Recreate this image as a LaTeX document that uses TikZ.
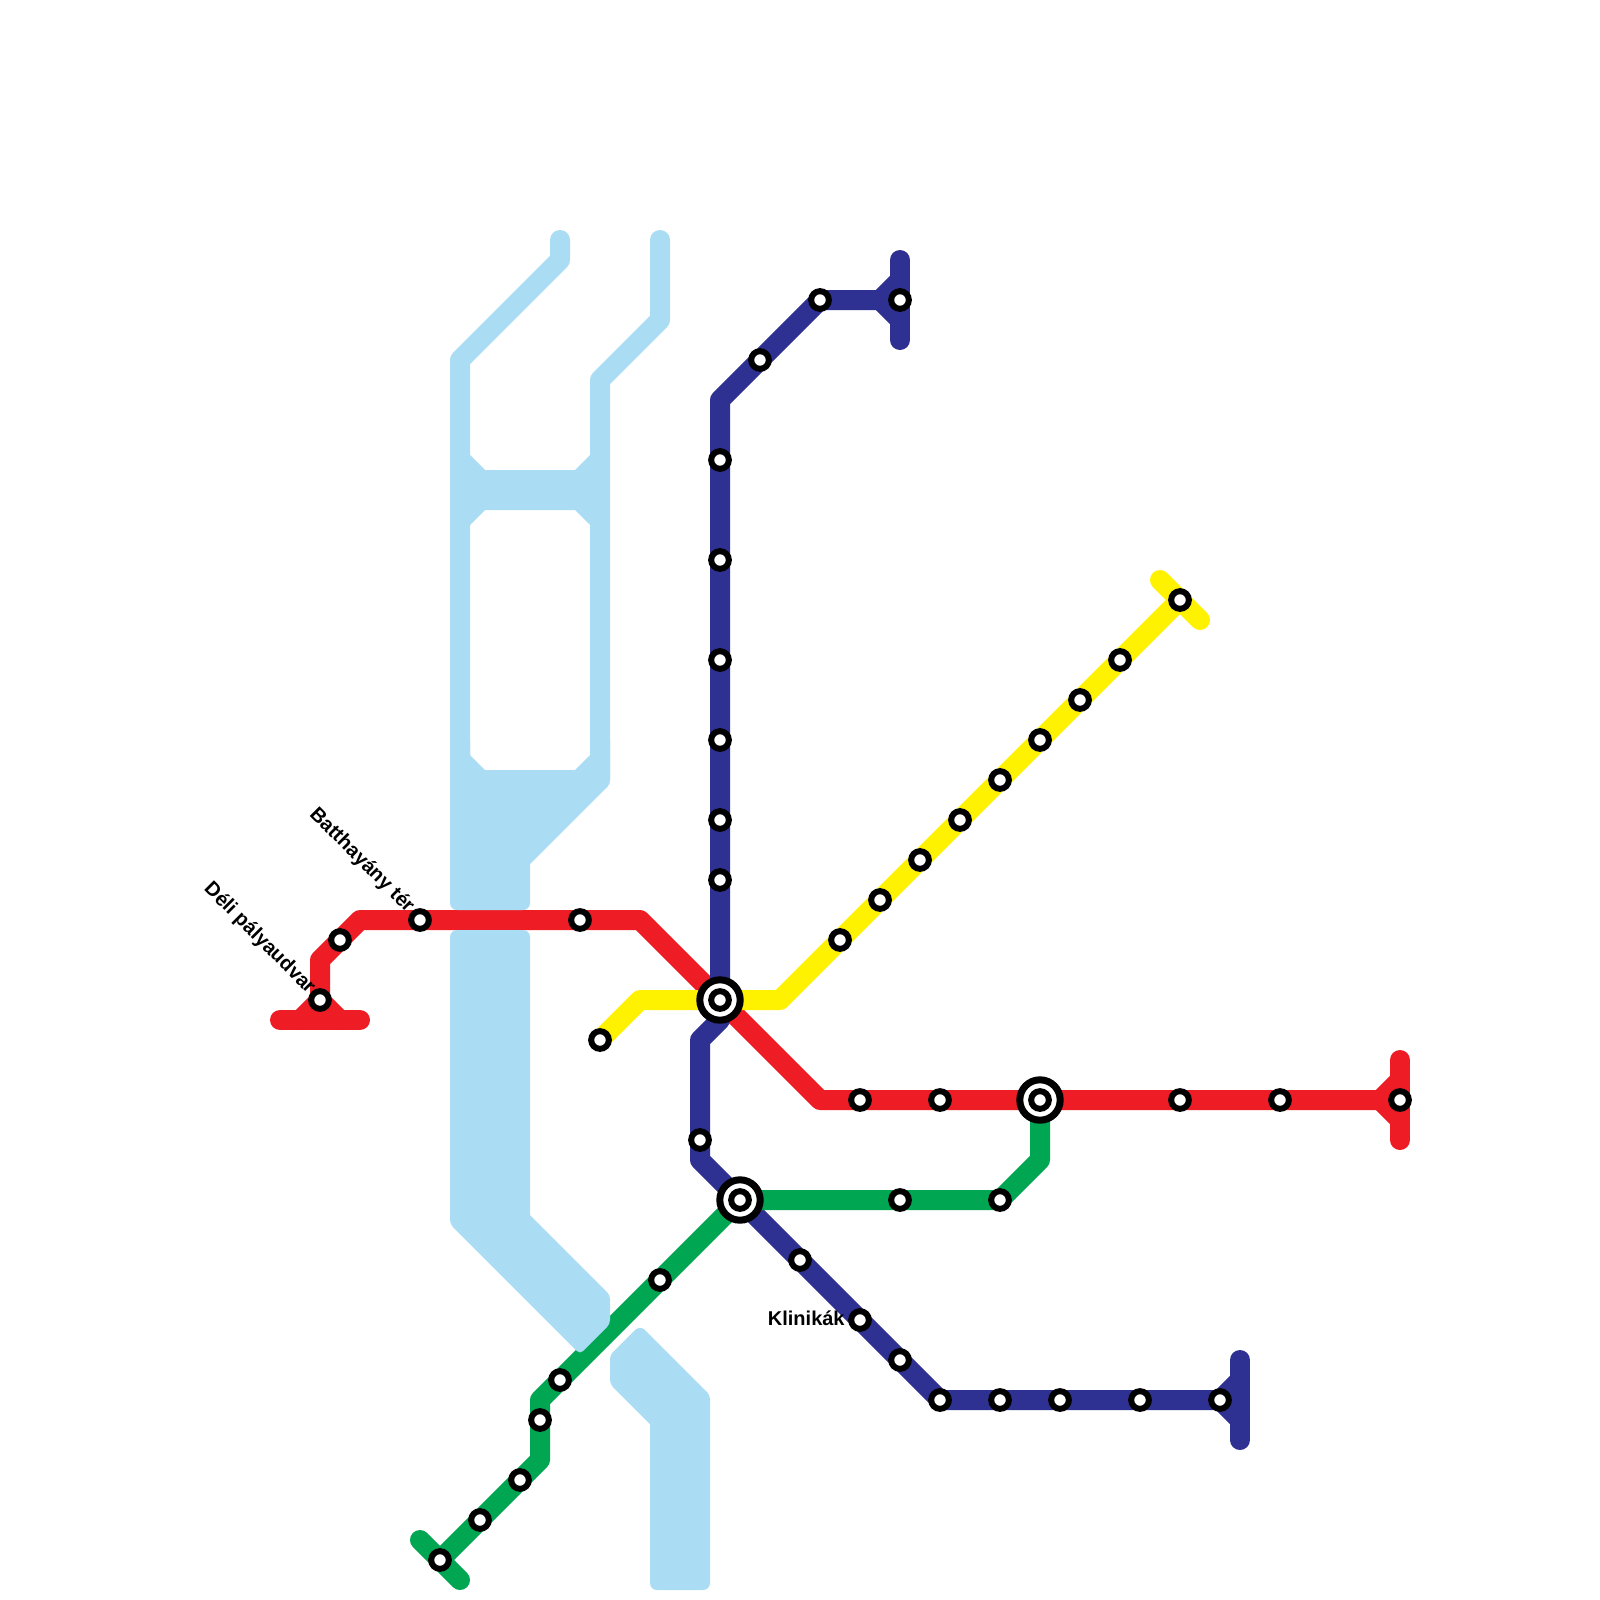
\documentclass[tikz,border=0pt]{standalone}
\usepackage{fontspec}
\setmainfont{Liberation Sans}
\definecolor{wat}{HTML}{AADCF3}
\definecolor{lred}{HTML}{EE1C25}
\definecolor{lyel}{HTML}{FFF200}
\definecolor{lblu}{HTML}{2E3192}
\definecolor{lgrn}{HTML}{00A651}
\pgfdeclarelayer{water}
\pgfdeclarelayer{lines}
\pgfsetlayers{lines,water,main}
\tikzset{
  stn/.style={circle,draw=black,fill=white,line width=3pt,inner sep=0pt,outer sep=0pt,minimum size=8.85pt},
  hubo/.style={circle,draw=black,fill=white,line width=3.5pt,inner sep=0pt,outer sep=0pt,minimum size=20.2pt},
  route/.style={line width=10pt,line join=round,line cap=round},
  rw/.style={route,wat},
  rr/.style={route,lred},
  ry/.style={route,lyel},
  rb/.style={route,lblu},
  rg/.style={route,lgrn},
  bw/.style={fill=wat,rounded corners=3.5pt},
  lab/.style={font=\bfseries\fontsize{10pt}{12pt}\selectfont,inner sep=0pt,text=black}
}
\begin{document}
\begin{tikzpicture}[x=10pt,y=-10pt]
\useasboundingbox (0,0) rectangle (80,80);
% waypoints
\foreach \n/\p in {
 ra/{14,51},rb/{18,51},rc/{15,51},rd/{17,51},re/{16,48},rf/{18,46},rg/{32,46},rh/{41,55},ri/{69,55},rj/{70,53},rk/{70,57},rl/{70,54},rm/{70,56},
 ya/{32,50},yb/{39,50},yc/{58,29},yd/{60,31},
 ba/{45,13},bb/{45,17},bc/{44,15},bd/{45,14},be/{45,16},bf/{36,20},bg/{36,51},bh/{35,52},bi/{35,58},bj/{62,68},bk/{62,72},bl/{62,69},bm/{62,71},
 ga/{21,77},gb/{23,79},gc/{27,73},gd/{27,70},ge/{52,58},
 wa/{28,12},wb/{28,13},wc/{23,18},wd/{23,44},we/{33,12},wf/{33,16},wg/{30,19},wh/{30,39}}
 {\coordinate (\n) at (\p);}
% stations
\node[hubo] (h1o) at (36,50) {}; \node[stn] (h1) at (36,50) {};
\node[hubo] (h2o) at (52,55) {}; \node[stn] (h2) at (52,55) {};
\node[hubo] (h3o) at (37,60) {}; \node[stn] (h3) at (37,60) {};
\foreach \n/\p in {
 s1/{16,50},s2/{17,47},s3/{21,46},s4/{29,46},s5/{43,55},s6/{47,55},s7/{59,55},s8/{64,55},s9/{70,55},
 y1/{30,52},y2/{42,47},y3/{44,45},y4/{46,43},y5/{48,41},y6/{50,39},y7/{52,37},y8/{54,35},y9/{56,33},y10/{59,30},
 b1/{45,15},b2/{41,15},b3/{38,18},b4/{36,23},b5/{36,28},b6/{36,33},b7/{36,37},b8/{36,41},b9/{36,44},b10/{35,57},b11/{40,63},b12/{43,66},b13/{45,68},b14/{47,70},b15/{50,70},b16/{53,70},b17/{57,70},b18/{61,70},
 g1/{22,78},g2/{24,76},g3/{26,74},g4/{27,71},g5/{28,69},g6/{33,64},g7/{45,60},g8/{50,60}}
 {\node[stn] (\n) at (\p) {};}
% labels
\node[lab,anchor=east,rotate=-45] (l1) at (20.55,45.5) {Batthayány tér};
\node[lab,anchor=east,rotate=-45] (l2) at (15.6,49.55) {Déli pályaudvar};
\node[lab,anchor=east] (l3) at (42.25,65.9) {Klinikák};
\begin{pgfonlayer}{water}
\draw[rw] (wa)--(wb)--(wc)--(wd);
\draw[rw] (we)--(wf)--(wg)--(wh);
\fill[wat] (23.5,22.75)--(24.25,23.5)--(28.75,23.5)--(29.5,22.75)--(29.5,26.25)--(28.75,25.5)--(24.25,25.5)--(23.5,26.25)--cycle;
\fill[bw] (23.5,37)[sharp corners]--(23.5,37.75)--(24.25,38.5)--(28.75,38.5)--(29.5,37.75)--(29.5,37)--(30.5,37)[rounded corners=2pt]--(30.5,39.2)[sharp corners]--(26.5,43.2)[rounded corners=3.5pt]--(26.5,45.5)--(22.5,45.5)--(22.5,37)[sharp corners]--cycle;
\fill[bw] (22.5,46.5)--(26.5,46.5)[sharp corners]--(26.5,60.75)[rounded corners=2pt]--(30.5,64.75)--(30.5,66.2)--(29,67.7)--(22.5,61.2)[rounded corners=3.5pt]--cycle;
\fill[bw] (32,66.25)[rounded corners=2pt]--(30.5,67.75)--(30.5,69.2)[sharp corners]--(32.5,71.2)[rounded corners=3.5pt]--(32.5,79.5)--(35.5,79.5)[rounded corners=2pt]--(35.5,69.75)[rounded corners=3.5pt]--cycle;
\end{pgfonlayer}
\begin{pgfonlayer}{lines}
\fill[white] (0,0) rectangle (80,80);
\draw[rr] (ra)--(rb);
\draw[rr] (rc)--(s1.center)--(rd);
\draw[rr] (s1.center)--(re)--(rf)--(rg)--(rh)--(s9.center);
\draw[rr] (rj)--(rk);
\draw[rr] (rl)--(ri)--(rm);
\draw[ry] (y1.center)--(ya)--(yb)--(y10.center);
\draw[ry] (yc)--(yd);
\draw[rb] (ba)--(bb);
\draw[rb] (bd)--(bc)--(be);
\draw[rb] (b1.center)--(b2.center)--(bf)--(bg)--(bh)--(bi)--(b14.center)--(b18.center);
\draw[rb] (bj)--(bk);
\draw[rb] (bl)--(b18.center)--(bm);
\draw[rg] (ga)--(gb);
\draw[rg] (g1.center)--(gc)--(gd)--(h3.center)--(g8.center)--(ge)--(h2.center);
\end{pgfonlayer}
\end{tikzpicture}
\end{document}
